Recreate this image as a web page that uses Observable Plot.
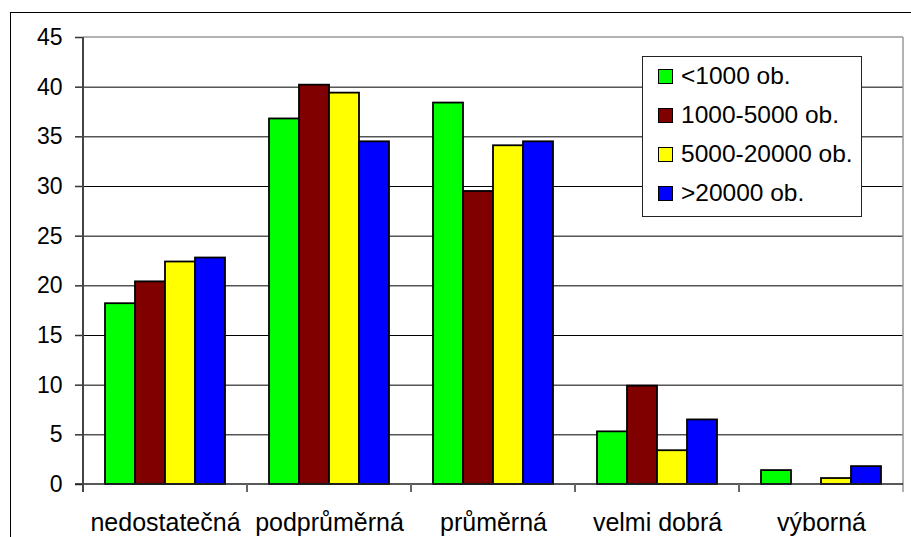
<!DOCTYPE html>
<html><head><meta charset="utf-8">
<script src="https://cdn.jsdelivr.net/npm/d3@7"></script>
<script src="https://cdn.jsdelivr.net/npm/@observablehq/plot@0.6"></script>
<style>
body{margin:0;width:911px;height:537px;overflow:hidden;background:#fff;font-family:"Liberation Sans",Arial,sans-serif;}
#wrap{position:relative;width:911px;height:537px;overflow:hidden;}
#frame{position:absolute;left:10px;top:12px;width:1000px;height:600px;border:1px solid #000;box-sizing:border-box;}
#chart{position:absolute;left:0;top:0;}
#legend{position:absolute;left:642px;top:56px;width:220px;height:161px;box-sizing:border-box;border:1px solid #222;background:#fff;}
.row{position:absolute;left:0;height:30px;display:flex;align-items:center;font-size:24.5px;color:#000;white-space:nowrap;}
.sw{width:13px;height:13px;border:1.5px solid #000;margin-left:15px;margin-right:8px;}
</style>
</head><body>
<div id="wrap"><div id="frame"></div><div id="chart"></div><div id="legend"></div></div>
<script>
const categories = ["nedostatečná", "podprůměrná", "průměrná", "velmi dobrá", "výborná"];
const seriesNames = ["<1000 ob.", "1000-5000 ob.", "5000-20000 ob.", ">20000 ob."];
const seriesColors = ["#00ff00", "#800000", "#ffff00", "#0000ff"];
const under1000 = [18.2, 36.8, 38.4, 5.3, 1.4];
const from1000to5000 = [20.4, 40.2, 29.5, 9.9, 0];
const from5000to20000 = [22.4, 39.4, 34.1, 3.4, 0.6];
const over20000 = [22.8, 34.5, 34.5, 6.5, 1.8];
const yTicks = [0, 5, 10, 15, 20, 25, 30, 35, 40, 45];

const seriesValues = [under1000, from1000to5000, from5000to20000, over20000];
const rows = categories.flatMap((c, i) => seriesNames.map((s, j) => ({cat: c, series: s, value: seriesValues[j][i]})));

const plot = Plot.plot({
  width: 911, height: 537,
  marginLeft: 82, marginRight: 7, marginTop: 37, marginBottom: 53,
  style: {fontFamily: "'Liberation Sans', Arial, sans-serif", fontSize: "23px", color: "#000", background: "transparent"},
  fx: {domain: categories, padding: 0, label: null},
  x: {domain: seriesNames, paddingInner: 0, paddingOuter: 0.73, axis: null},
  y: {domain: [0, 45], label: null},
  color: {domain: seriesNames, range: seriesColors},
  marks: [
    Plot.ruleY(yTicks.filter(t => t > 0 && t < 45), {stroke: "#000", strokeWidth: 1}),
    Plot.barY(rows.filter(d => d.value > 0), {fx: "cat", x: "series", y: "value", fill: "series", stroke: "#000", strokeWidth: 1.8}),
    Plot.axisY({ticks: yTicks, tickSize: 8, tickPadding: 13, fontSize: 23, stroke: "#333", strokeWidth: 1.5, label: null}),
    Plot.axisFx({anchor: "bottom", tickSize: 0, tickPadding: 29, fontSize: 25, label: null})
  ]
});
document.getElementById("chart").appendChild(plot);

// plot-area frame and category boundary ticks, positioned through the plot's scales
const fx = plot.scale("fx"), y = plot.scale("y");
const svg = d3.select(plot);
const x0 = fx.apply(categories[0]);
const x1 = fx.apply(categories[categories.length - 1]) + fx.bandwidth;
const y0 = y.apply(0), yTop = y.apply(45);
const g = svg.append("g");
g.append("line").attr("x1", x0).attr("x2", x1).attr("y1", yTop).attr("y2", yTop).attr("stroke", "#999").attr("stroke-width", 1.5);
g.append("line").attr("x1", x1).attr("x2", x1).attr("y1", yTop).attr("y2", y0 + 8).attr("stroke", "#999").attr("stroke-width", 1.5);
g.append("line").attr("x1", x0 - 8).attr("x2", x1).attr("y1", y0).attr("y2", y0).attr("stroke", "#222").attr("stroke-width", 1.5);
g.append("line").attr("x1", x0).attr("x2", x0).attr("y1", yTop).attr("y2", y0 + 8).attr("stroke", "#444").attr("stroke-width", 2);
categories.slice(1).forEach(c => {
  const xb = fx.apply(c);
  g.append("line").attr("x1", xb).attr("x2", xb).attr("y1", y0).attr("y2", y0 + 8).attr("stroke", "#666").attr("stroke-width", 2);
});

// legend
const leg = d3.select("#legend");
seriesNames.forEach((s, i) => {
  const r = leg.append("div").attr("class", "row").style("top", (4 + 39 * i) + "px");
  r.append("div").attr("class", "sw").style("background", seriesColors[i]);
  r.append("span").text(s);
});
</script>
</body></html>
